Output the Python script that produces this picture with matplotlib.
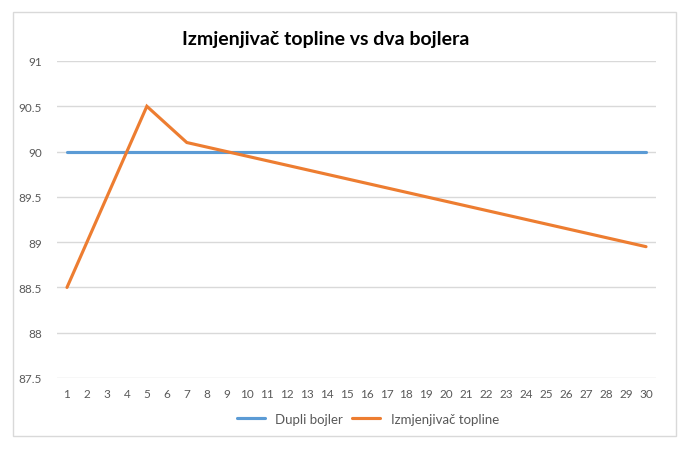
import matplotlib
matplotlib.use('Agg')
import matplotlib.pyplot as plt
from matplotlib.patches import Rectangle

# data
dani = list(range(1, 31))
dupli_bojler = [90.0] * 30
izmjenjivac = [88.5, 89.0, 89.5, 90.0, 90.5, 90.3, 90.1, 90.05, 90.0, 89.95,
               89.9, 89.85, 89.8, 89.75, 89.7, 89.65, 89.6, 89.55, 89.5, 89.45,
               89.4, 89.35, 89.3, 89.25, 89.2, 89.15, 89.1, 89.05, 89.0, 88.95]
y_ticks = [87.5, 88, 88.5, 89, 89.5, 90, 90.5, 91]
y_labels = ['87.5', '88', '88.5', '89', '89.5', '90', '90.5', '91']

plt.rcParams['font.family'] = ['Lato', 'DejaVu Sans']

fig = plt.figure(figsize=(6.89, 4.56), dpi=100)
ax = fig.add_axes([57/689, 1-379/456, 599/689, 317/456])

# outer chart border
fig.patches.append(Rectangle((13/689, 1-437/456), 663/689, 424/456,
                             transform=fig.transFigure, fill=False,
                             edgecolor='#D9D9D9', linewidth=1))

ax.plot(dani, dupli_bojler, color='#5B9BD5', linewidth=2.25, label='Dupli bojler',
        solid_capstyle='round')
ax.plot(dani, izmjenjivac, color='#ED7D31', linewidth=2.25, label='Izmjenjivač topline',
        solid_capstyle='round', solid_joinstyle='miter')

ax.set_xlim(0.5, 30.5)
ax.set_ylim(87.5, 91)
ax.set_xticks(dani)
ax.set_xticklabels([str(d) for d in dani])
ax.set_yticks(y_ticks)
ax.set_yticklabels(y_labels)
ax.grid(axis='y', color='#D9D9D9', linewidth=1)
ax.set_axisbelow(True)
for s in ax.spines.values():
    s.set_visible(False)
ax.tick_params(length=0, labelsize=8.5, colors='#595959')
ax.tick_params(axis='y', pad=11)
ax.tick_params(axis='x', pad=7)

fig.text(326/689, 1-40/456, 'Izmjenjivač topline vs dva bojlera', ha='center', va='center',
         fontsize=14, fontweight='bold', color='black')

fig.legend(loc='center', bbox_to_anchor=(368/689, 1-420/456), ncol=2, frameon=False,
           fontsize=9.5, handlelength=2.1, columnspacing=0.7, handletextpad=0.8,
           labelcolor='#595959')

fig.savefig('out.png', dpi=100)
